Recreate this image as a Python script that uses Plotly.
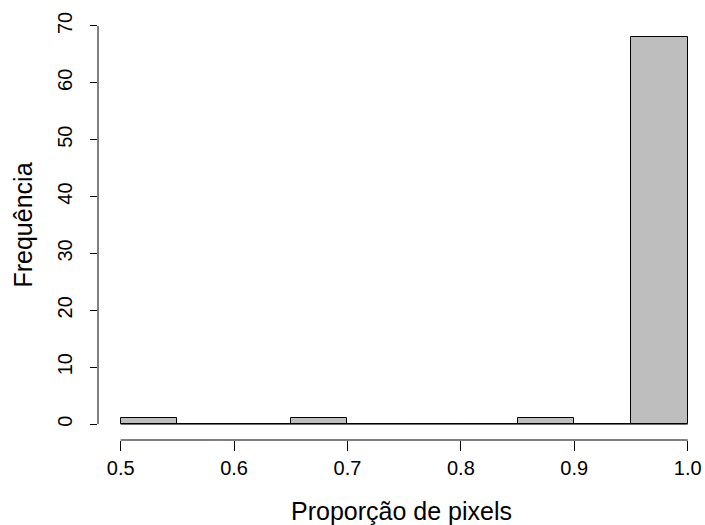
import plotly.graph_objects as go

bin_edges = [0.50, 0.55, 0.60, 0.65, 0.70, 0.75, 0.80, 0.85, 0.90, 0.95, 1.00]
counts = [1, 0, 0, 1, 0, 0, 0, 1, 0, 68]
x_ticks = [0.5, 0.6, 0.7, 0.8, 0.9, 1.0]
x_tick_labels = ["0.5", "0.6", "0.7", "0.8", "0.9", "1.0"]
y_ticks = [0, 10, 20, 30, 40, 50, 60, 70]
x_title = "Proporção de pixels"
y_title = "Frequência"

mids = [(a + b) / 2 for a, b in zip(bin_edges[:-1], bin_edges[1:])]
widths = [b - a for a, b in zip(bin_edges[:-1], bin_edges[1:])]

FONT = "Liberation Sans, Arial, sans-serif"

fig = go.Figure()
fig.add_trace(go.Bar(
    x=mids, y=counts, width=widths,
    marker=dict(color="#BEBEBE", line=dict(color="black", width=1)),
    hoverinfo="skip",
))
# zero baseline (zero-height bins)
fig.add_trace(go.Scatter(
    x=[bin_edges[0], bin_edges[-1]], y=[0, 0], mode="lines",
    line=dict(color="black", width=1), hoverinfo="skip",
))

# axis lines spanning first to last tick (R style)
fig.add_shape(type="line", xref="x", yref="paper",
              x0=x_ticks[0], x1=x_ticks[-1], y0=0, y1=0,
              line=dict(color="black", width=1))
fig.add_shape(type="line", xref="paper", yref="y",
              x0=0, x1=0, y0=y_ticks[0], y1=y_ticks[-1],
              line=dict(color="black", width=1))

W, H = 705, 525
ml, mr, mt, mb = 98, 0, 10, 85
plot_w = W - ml - mr
px_per_unit = (688 - 121) / 0.5
xr0 = x_ticks[0] - 0.04 * (x_ticks[-1] - x_ticks[0])
xr1 = xr0 + plot_w / px_per_unit
yr = [y_ticks[0] - 0.04 * (y_ticks[-1] - y_ticks[0]), y_ticks[-1] + 0.04 * (y_ticks[-1] - y_ticks[0])]

fig.update_layout(
    width=W, height=H,
    margin=dict(l=ml, r=mr, t=mt, b=mb, autoexpand=False),
    paper_bgcolor="white", plot_bgcolor="white",
    showlegend=False, bargap=0,
    font=dict(family=FONT, color="black", size=20),
    xaxis=dict(
        range=[xr0, xr1], tickvals=x_ticks, ticktext=x_tick_labels,
        ticks="outside", ticklen=10, tickcolor="black", tickwidth=1,
        showline=False, showgrid=False, zeroline=False, automargin=False,
        tickfont=dict(size=20),
        title=dict(text=x_title, font=dict(size=25), standoff=24),
    ),
    yaxis=dict(
        range=yr, tickvals=y_ticks,
        ticks="outside", ticklen=7, tickcolor="black", tickwidth=1,
        showline=False, showgrid=False, zeroline=False, automargin=False,
        tickangle=-90, tickfont=dict(size=20), ticklabelstandoff=10,
        title=dict(text=y_title, font=dict(size=25), standoff=14),
    ),
)

fig.write_html(
    "out.html",
    config={"displayModeBar": False},
    post_script="document.body.style.margin='0';document.body.style.padding='0';",
)
